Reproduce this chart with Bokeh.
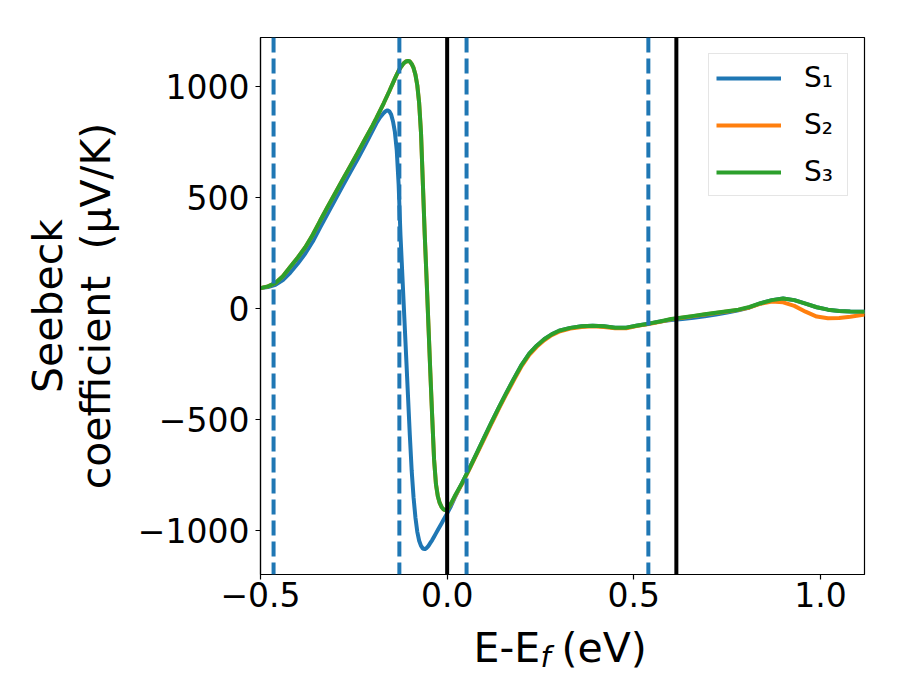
from bokeh.plotting import figure
from bokeh.models import Range1d, Span, Label, CustomJSTickFormatter, FixedTicker
from bokeh.layouts import column
from bokeh.embed import file_html
from bokeh.resources import INLINE

# ---------------- data ----------------
E_A = [-0.50, -0.48, -0.46, -0.44, -0.42, -0.40, -0.38, -0.36, -0.34, -0.32,
       -0.30, -0.28, -0.26, -0.24, -0.22, -0.20]
E_B = [-0.19, -0.18, -0.17, -0.165, -0.16, -0.155, -0.15, -0.145, -0.14, -0.135,
       -0.13, -0.125, -0.12, -0.115, -0.11, -0.105, -0.10, -0.095, -0.09, -0.085,
       -0.08, -0.075, -0.07, -0.065, -0.06, -0.055, -0.05, -0.045, -0.04, -0.035,
       -0.03, -0.025, -0.02, -0.015, -0.01, -0.005]
E_C = [0.00, 0.01, 0.02, 0.03, 0.04, 0.06, 0.08, 0.10, 0.12, 0.14,
       0.16, 0.18, 0.20, 0.22, 0.24, 0.26, 0.28, 0.30, 0.33, 0.36,
       0.39, 0.42, 0.45, 0.48, 0.51, 0.54, 0.57, 0.60, 0.63, 0.66,
       0.69, 0.72, 0.75, 0.78, 0.81, 0.84, 0.87, 0.90, 0.93, 0.96,
       0.99, 1.02, 1.05, 1.08, 1.12]

S1_A = [92, 97, 107, 128, 162, 203, 248, 302, 366, 428,
        490, 551, 612, 672, 735, 800]
S1_B = [833, 860, 880, 888, 892, 888, 873, 842, 795, 712,
        560, 330, 150, -30, -210, -390, -570, -730, -850, -940,
        -1005, -1045, -1068, -1080, -1083, -1078, -1068, -1055, -1042, -1027,
        -1012, -997, -982, -967, -952, -937]
S1_C = [-922, -890, -852, -818, -786, -718, -648, -578, -508, -440,
        -375, -312, -252, -203, -167, -138, -116, -100, -87, -80,
        -77, -80, -86, -86, -76, -68, -58, -52, -47, -41,
        -35, -27, -18, -8, 5, 24, 38, 45, 38, 22,
        6, -5, -11, -13, -14]

S2_A = [92, 100, 115, 145, 188, 230, 276, 332, 396, 458,
        519, 580, 640, 700, 762, 823]
S2_B = [856, 890, 924, 942, 960, 978, 997, 1016, 1035, 1053,
        1070, 1084, 1096, 1106, 1112, 1115, 1112, 1101, 1083, 1053,
        1005, 925, 790, 560, 330, 130, -80, -290, -490, -680,
        -790, -845, -875, -893, -903, -908]
S2_C = [-905, -880, -848, -818, -789, -722, -653, -584, -514, -446,
        -381, -318, -258, -208, -172, -143, -120, -104, -90, -83,
        -80, -83, -89, -89, -78, -70, -60, -48, -41, -34,
        -27, -20, -13, -6, 5, 22, 32, 28, 12, -14,
        -36, -44, -43, -37, -27]

S3_A = [92, 100, 115, 145, 188, 230, 276, 332, 396, 458,
        519, 580, 640, 700, 762, 823]
S3_B = [856, 890, 924, 942, 960, 978, 997, 1016, 1035, 1053,
        1070, 1084, 1096, 1106, 1112, 1115, 1112, 1101, 1083, 1053,
        1005, 925, 790, 560, 330, 130, -80, -290, -490, -680,
        -790, -845, -875, -893, -903, -908]
S3_C = [-905, -878, -845, -815, -785, -718, -648, -578, -508, -440,
        -375, -312, -252, -203, -167, -138, -116, -100, -87, -80,
        -77, -80, -86, -86, -76, -68, -58, -47, -40, -33,
        -26, -19, -12, -5, 7, 24, 38, 45, 38, 22,
        6, -5, -11, -13, -14]

energy = E_A + E_B + E_C
series = {
    "S\u2081": S1_A + S1_B + S1_C,
    "S\u2082": S2_A + S2_B + S2_C,
    "S\u2083": S3_A + S3_B + S3_C,
}
colors = ["#1f77b4", "#ff7f0e", "#2ca02c"]

dashed_lines = [-0.465, -0.128, 0.052, 0.539]
solid_lines = [0.0, 0.614]

x_ticks = [-0.5, 0.0, 0.5, 1.0]
y_ticks = [-1000, -500, 0, 500, 1000]

FONT = "DejaVu Sans"
FRAME_L, FRAME_R, FRAME_T, FRAME_B = 260, 864, 37, 574
W, H_MAIN, H_LAB = 884, 621, 63

# ---------------- main figure ----------------
p = figure(width=W, height=H_MAIN,
           x_range=Range1d(-0.5, 1.118), y_range=Range1d(-1197, 1220),
           output_backend="svg", toolbar_location=None,
           min_border_left=FRAME_L, min_border_right=W - FRAME_R,
           min_border_top=FRAME_T, min_border_bottom=H_MAIN - FRAME_B)
p.background_fill_color = "white"
p.border_fill_color = "white"
p.outline_line_color = "black"
p.outline_line_width = 1.2
p.xgrid.visible = False
p.ygrid.visible = False

for (name, vals), c in zip(series.items(), colors):
    p.line(energy, vals, line_color=c, line_width=4, legend_label=name)

for xv in dashed_lines:
    p.add_layout(Span(location=xv, dimension="height", line_color="#1f77b4",
                      line_width=4, line_dash="15 6"))
for xv in solid_lines:
    p.add_layout(Span(location=xv, dimension="height", line_color="black",
                      line_width=4))

for ax in (p.xaxis[0], p.yaxis[0]):
    ax.axis_line_color = "black"
    ax.axis_line_width = 1.2
    ax.major_tick_in = 0
    ax.major_tick_out = 5
    ax.major_tick_line_width = 1.2
    ax.minor_tick_line_color = None
    ax.major_label_text_font = FONT
    ax.major_label_text_font_size = "33px"
    ax.major_label_text_color = "black"
    ax.axis_label_text_font = FONT
    ax.axis_label_text_font_style = "normal"
    ax.axis_label_text_font_size = "41px"
    ax.axis_label_text_color = "black"

p.xaxis[0].ticker = FixedTicker(ticks=x_ticks)
p.yaxis[0].ticker = FixedTicker(ticks=y_ticks)
p.xaxis[0].formatter = CustomJSTickFormatter(
    code='return (tick < 0 ? "\\u2212" : "") + Math.abs(tick).toFixed(1);')
p.yaxis[0].formatter = CustomJSTickFormatter(
    code='return (tick < 0 ? "\\u2212" : "") + Math.abs(tick).toFixed(0);')
p.xaxis[0].major_label_standoff = 2
p.yaxis[0].major_label_standoff = 6

p.yaxis[0].axis_label = "Seebeck\ncoefficient \u00a0(\u03bcV/K)"
p.yaxis[0].axis_label_standoff = 15
p.yaxis[0].axis_label_text_line_height = 1.0

lg = p.legend[0]
lg.location = "top_right"
lg.margin = 16
lg.padding = 7
lg.spacing = 14
lg.glyph_width = 65
lg.glyph_height = 28
lg.label_standoff = 23
lg.label_width = 36
lg.label_text_font = FONT
lg.label_text_font_size = "28px"
lg.label_text_color = "black"
lg.label_height = 28
lg.border_line_color = "#cccccc"
lg.border_line_width = 1
lg.background_fill_alpha = 0.8

# ---------------- strip under the plot holding the x-axis title ----------------
# its frame spans the same pixels as the main frame; coordinates are pixels
q = figure(width=W, height=H_LAB,
           x_range=Range1d(FRAME_L, FRAME_R), y_range=Range1d(0, H_LAB),
           x_axis_type=None, y_axis_type=None, output_backend="svg",
           toolbar_location=None, title_location=None,
           min_border_left=FRAME_L, min_border_right=W - FRAME_R,
           min_border_top=0, min_border_bottom=0)
q.outline_line_color = None
q.xgrid.visible = False
q.ygrid.visible = False
q.background_fill_color = "white"
q.border_fill_color = "white"

lab_kw = dict(text_font=FONT, text_color="black",
              text_baseline="middle", text_align="left")
# (text, page x, centre offset below top of strip, size, style)
for txt, px, dy, size, style in [("E-E", 473, 26, "41px", "normal"),
                                 ("f", 540, 35, "29px", "italic"),
                                 ("(eV)", 561, 26, "41px", "normal")]:
    q.add_layout(Label(x=px, y=H_LAB - dy, text=txt, text_font_size=size,
                       text_font_style=style, **lab_kw))

layout = column(p, q, spacing=0)
open("out.html", "w").write(file_html(layout, INLINE))
